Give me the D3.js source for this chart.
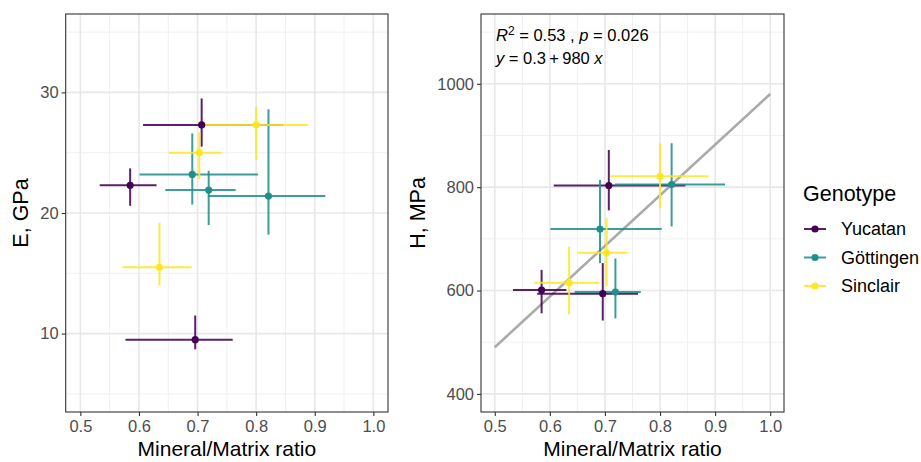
<!DOCTYPE html>
<html>
<head>
<meta charset="utf-8">
<script src="https://cdn.jsdelivr.net/npm/d3@7"></script>
<style>
  body { margin: 0; background: #fff; }
  svg { font-family: "Liberation Sans", Arial, sans-serif; }
</style>
</head>
<body>
<svg id="chart" width="921" height="462"></svg>
<script>
// Werte (je Probe: Mittelwert und Fehlerbalken)
const genotypes = ["Yucatan", "Göttingen", "Sinclair"];
const genotypeColors = ["#440154", "#21908C", "#FDE725"];

const sampleGenotype = ["Yucatan", "Yucatan", "Yucatan", "Göttingen", "Göttingen", "Göttingen", "Sinclair", "Sinclair", "Sinclair"];
const ratio   = [0.707, 0.585, 0.696, 0.691, 0.719, 0.821, 0.800, 0.703, 0.635];
const ratioLo = [0.607, 0.533, 0.577, 0.601, 0.645, 0.718, 0.710, 0.651, 0.572];
const ratioHi = [0.846, 0.630, 0.760, 0.803, 0.765, 0.918, 0.888, 0.741, 0.690];

const modulus   = [27.3, 22.3, 9.5, 23.2, 21.9, 21.4, 27.3, 25.0, 15.5];
const modulusLo = [25.5, 20.6, 8.7, 20.7, 19.0, 18.2, 24.4, 22.8, 14.0];
const modulusHi = [29.5, 23.7, 11.5, 26.6, 23.5, 28.6, 28.8, 26.7, 19.2];

const hardness   = [803, 601, 594, 719, 597, 805, 821, 673, 615];
const hardnessLo = [755, 556, 542, 653, 546, 724, 759, 608, 554];
const hardnessHi = [872, 640, 653, 814, 662, 885, 885, 740, 685];

const xTicks = [0.5, 0.6, 0.7, 0.8, 0.9, 1.0];
const xMinor = [0.55, 0.65, 0.75, 0.85, 0.95];
const eTicks = [10, 20, 30];
const eMinor = [5, 15, 25, 35];
const hTicks = [400, 600, 800, 1000];
const hMinor = [500, 700, 900, 1100];

// Regressionsgerade H = 0.3 + 980 * ratio
const fitIntercept = 0.3;
const fitSlope = 980;
const fitRange = [0.5, 1.0];

const color = d3.scaleOrdinal().domain(genotypes).range(genotypeColors);

const svg = d3.select("#chart");

const samples = ratio.map((r, i) => ({
    genotype: sampleGenotype[i],
    x: r, xLo: ratioLo[i], xHi: ratioHi[i],
    e: modulus[i], eLo: modulusLo[i], eHi: modulusHi[i],
    h: hardness[i], hLo: hardnessLo[i], hHi: hardnessHi[i]
}));

/**
 * Zeichnet ein Panel mit Gitter, Achsen und Fehlerkreuzen
 */
function drawPanel(opts) {
    const { left, right, top, bottom, yDomain, yTicks, yMinor, yKey, yTitle, titleX } = opts;

    const x = d3.scaleLinear().domain([0.475, 1.025]).range([left, right]);
    const y = d3.scaleLinear().domain(yDomain).range([bottom, top]);

    const g = svg.append("g");

    g.append("rect")
        .attr("x", left).attr("y", top)
        .attr("width", right - left).attr("height", bottom - top)
        .attr("fill", "white");

    // Gitter
    g.selectAll(".xminor").data(xMinor).enter().append("line")
        .attr("x1", d => x(d)).attr("x2", d => x(d))
        .attr("y1", top).attr("y2", bottom)
        .attr("stroke", "#F0F0F0").attr("stroke-width", 1);
    g.selectAll(".yminor").data(yMinor).enter().append("line")
        .attr("x1", left).attr("x2", right)
        .attr("y1", d => y(d)).attr("y2", d => y(d))
        .attr("stroke", "#F0F0F0").attr("stroke-width", 1);
    g.selectAll(".xmajor").data(xTicks).enter().append("line")
        .attr("x1", d => x(d)).attr("x2", d => x(d))
        .attr("y1", top).attr("y2", bottom)
        .attr("stroke", "#E8E8E8").attr("stroke-width", 1.6);
    g.selectAll(".ymajor").data(yTicks).enter().append("line")
        .attr("x1", left).attr("x2", right)
        .attr("y1", d => y(d)).attr("y2", d => y(d))
        .attr("stroke", "#E8E8E8").attr("stroke-width", 1.6);

    if (opts.fit) {
        g.append("line")
            .attr("x1", x(fitRange[0])).attr("y1", y(fitIntercept + fitSlope * fitRange[0]))
            .attr("x2", x(fitRange[1])).attr("y2", y(fitIntercept + fitSlope * fitRange[1]))
            .attr("stroke", "#AAAAAA").attr("stroke-width", 2.6);
    }

    // Fehlerbalken
    samples.forEach(d => {
        g.append("line")
            .attr("x1", x(d.x)).attr("x2", x(d.x))
            .attr("y1", y(d[yKey + "Lo"])).attr("y2", y(d[yKey + "Hi"]))
            .attr("stroke", color(d.genotype)).attr("stroke-opacity", 0.88)
            .attr("stroke-width", 2);
        g.append("line")
            .attr("x1", x(d.xLo)).attr("x2", x(d.xHi))
            .attr("y1", y(d[yKey])).attr("y2", y(d[yKey]))
            .attr("stroke", color(d.genotype)).attr("stroke-opacity", 0.88)
            .attr("stroke-width", 2);
    });

    g.selectAll(".pt").data(samples).enter().append("circle")
        .attr("cx", d => x(d.x)).attr("cy", d => y(d[yKey]))
        .attr("r", 3.6)
        .attr("fill", d => color(d.genotype));

    g.append("rect")
        .attr("x", left).attr("y", top)
        .attr("width", right - left).attr("height", bottom - top)
        .attr("fill", "none").attr("stroke", "#333333").attr("stroke-width", 1.1);

    // Achsen
    const xAxis = g.append("g")
        .attr("transform", `translate(0, ${bottom})`)
        .call(d3.axisBottom(x).tickValues(xTicks).tickFormat(d3.format(".1f")).tickSize(4).tickPadding(4));
    const yAxis = g.append("g")
        .attr("transform", `translate(${left}, 0)`)
        .call(d3.axisLeft(y).tickValues(yTicks).tickFormat(d3.format("d")).tickSize(4).tickPadding(3));

    [xAxis, yAxis].forEach(a => {
        a.select(".domain").remove();
        a.selectAll("line").attr("stroke", "#333333").attr("stroke-width", 1.1);
        a.selectAll("text")
            .attr("fill", "#4D4D4D")
            .style("font-size", "16.5px")
            .style("font-family", "'Liberation Sans', Arial, sans-serif");
    });

    g.append("text")
        .attr("x", (left + right) / 2).attr("y", 456)
        .attr("text-anchor", "middle")
        .style("font-size", "21px")
        .text("Mineral/Matrix ratio");

    g.append("text")
        .attr("transform", `translate(${titleX}, ${(top + bottom) / 2}) rotate(-90)`)
        .attr("text-anchor", "middle")
        .style("font-size", "21.5px")
        .text(yTitle);

    return { x, y, g };
}

drawPanel({
    left: 65.7, right: 388, top: 14, bottom: 412,
    yDomain: [3.5, 36.5], yTicks: eTicks, yMinor: eMinor,
    yKey: "e", yTitle: "E, GPa", titleX: 28
});

const right = drawPanel({
    left: 481, right: 784, top: 14, bottom: 412,
    yDomain: [365, 1135], yTicks: hTicks, yMinor: hMinor,
    yKey: "h", yTitle: "H, MPa", titleX: 425, fit: true
});

// Statistik-Annotation
const ann1 = right.g.append("text")
    .attr("x", 496).attr("y", 40.5)
    .style("font-size", "16.5px");
ann1.append("tspan").style("font-style", "italic").text("R");
ann1.append("tspan").attr("dy", -6).style("font-size", "12px").text("2");
ann1.append("tspan").attr("dy", 6).text(" = 0.53 , ");
ann1.append("tspan").style("font-style", "italic").text("p");
ann1.append("tspan").text(" = 0.026");

const ann2 = right.g.append("text")
    .attr("x", 496).attr("y", 63.5)
    .style("font-size", "16.5px");
ann2.append("tspan").style("font-style", "italic").text("y");
ann2.append("tspan").text(" = 0.3\u2009+\u2009980 ");
ann2.append("tspan").style("font-style", "italic").text("x");

// Legende
const legend = svg.append("g");
legend.append("text")
    .attr("x", 803).attr("y", 201)
    .style("font-size", "21.5px")
    .text("Genotype");

genotypes.forEach((gt, i) => {
    const cy = 229 + i * 28.5;
    legend.append("line")
        .attr("x1", 804).attr("x2", 826)
        .attr("y1", cy).attr("y2", cy)
        .attr("stroke", color(gt)).attr("stroke-opacity", 0.88).attr("stroke-width", 2);
    legend.append("circle")
        .attr("cx", 815).attr("cy", cy).attr("r", 3.6)
        .attr("fill", color(gt));
    legend.append("text")
        .attr("x", 841).attr("y", cy + 6.3)
        .style("font-size", "18px")
        .text(gt);
});
</script>
</body>
</html>
